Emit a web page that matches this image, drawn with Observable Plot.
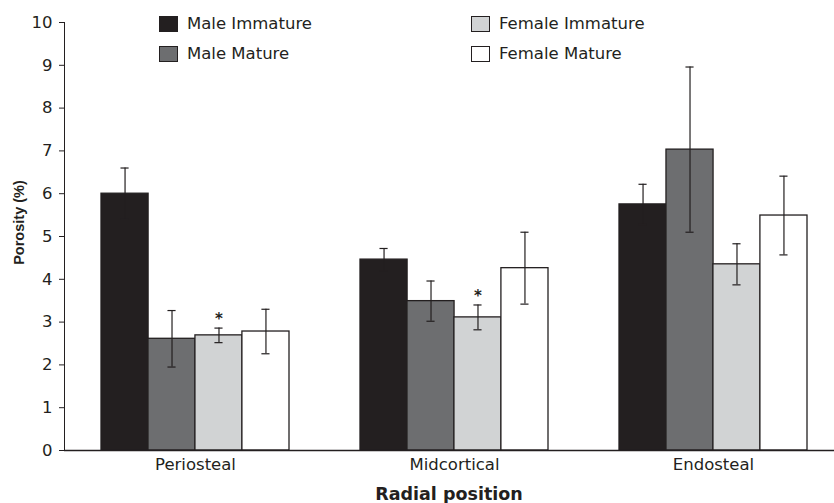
<!DOCTYPE html>
<html>
<head>
<meta charset="utf-8">
<script src="https://cdn.jsdelivr.net/npm/d3@7"></script>
<script src="https://cdn.jsdelivr.net/npm/@observablehq/plot@0.6"></script>
<style>
  html, body { margin: 0; padding: 0; background: #fff; }
  #wrap { position: relative; width: 834px; height: 503px; overflow: hidden; font-family: "DejaVu Sans", sans-serif; color: #231f20; }
  .leg { position: absolute; display: flex; align-items: center; font-size: 16.5px; line-height: 16px; white-space: nowrap; }
  .sw { width: 17px; height: 14px; border: 1.3px solid #231f20; margin-right: 9px; }
</style>
</head>
<body>
<div id="wrap"></div>
<script>
// ---- data ----
const positions = ["Periosteal", "Midcortical", "Endosteal"];
const seriesNames = ["Male Immature", "Male Mature", "Female Immature", "Female Mature"];
const seriesColors = ["#231f20", "#6d6e70", "#d1d3d4", "#ffffff"];

const maleImmature   = [6.00, 4.46, 5.75];
const maleMature     = [2.61, 3.49, 7.03];
const femaleImmature = [2.69, 3.11, 4.35];
const femaleMature   = [2.78, 4.26, 5.49];

const maleImmatureErr   = [0.60, 0.26, 0.47];
const maleMatureErr     = [0.66, 0.47, 1.93];
const femaleImmatureErr = [0.17, 0.29, 0.48];
const femaleMatureErr   = [0.52, 0.84, 0.92];

const yTicks = [0, 1, 2, 3, 4, 5, 6, 7, 8, 9, 10];
const starred = [
  {position: "Periosteal", series: "Female Immature"},
  {position: "Midcortical", series: "Female Immature"}
];

const values = [maleImmature, maleMature, femaleImmature, femaleMature];
const errors = [maleImmatureErr, maleMatureErr, femaleImmatureErr, femaleMatureErr];

const rows = [];
seriesNames.forEach((s, i) => positions.forEach((p, j) => {
  rows.push({series: s, si: i, position: p, value: values[i][j], err: errors[i][j]});
}));

// ---- layout ----
const W = 834, H = 503;
const mL = 64, mR = -9, mT = 22, mB = 53;
const pIn = 0.276, pOut = 0.139;
const step = (W - mL - mR) / (positions.length - pIn + 2 * pOut);
const bw = step * (1 - pIn);
const n = seriesNames.length;
const w = bw / n;
const capHalf = 4;
const ink = "#231f20";

const marks = [];
seriesNames.forEach((s, i) => {
  const d = rows.filter(r => r.si === i);
  const left = i * w, right = (n - 1 - i) * w;
  const c = (i + 0.5) * w;
  marks.push(Plot.barY(d, {x: "position", y: "value", fill: seriesColors[i], stroke: ink, strokeWidth: 1.3, insetLeft: left, insetRight: right}));
  marks.push(Plot.ruleX(d, {x: "position", y1: r => r.value - r.err, y2: r => r.value + r.err, dx: c - bw / 2, stroke: ink, strokeWidth: 1.2}));
  marks.push(Plot.tickY(d, {x: "position", y: r => r.value + r.err, insetLeft: c - capHalf, insetRight: bw - c - capHalf, stroke: ink, strokeWidth: 1.2}));
  marks.push(Plot.tickY(d, {x: "position", y: r => r.value - r.err, insetLeft: c - capHalf, insetRight: bw - c - capHalf, stroke: ink, strokeWidth: 1.2}));
  const st = starred.filter(a => a.series === s).map(a => rows.find(r => r.series === s && r.position === a.position));
  marks.push(Plot.text(st, {x: "position", y: r => r.value + r.err, text: () => "*", dx: c - bw / 2, dy: -9, fontSize: 15, fontWeight: "bold", fill: ink}));
});

const chart = Plot.plot({
  width: W, height: H,
  marginLeft: mL, marginRight: mR, marginTop: mT, marginBottom: mB,
  style: {fontFamily: "DejaVu Sans, sans-serif", fontSize: "16.5px", color: ink, background: "transparent"},
  x: {domain: positions, paddingInner: pIn, paddingOuter: pOut, label: null, tickSize: 0, tickPadding: 8},
  y: {domain: [0, 10], ticks: yTicks, label: null, tickSize: 5, tickPadding: 7, line: true},
  marks: [
    ...marks,
    Plot.ruleY([0], {stroke: ink, strokeWidth: 1.3}),
    Plot.text(["Porosity (%)"], {frameAnchor: "left", textAnchor: "middle", text: d => d, rotate: -90, dx: -45, dy: -14, fontWeight: "bold", fontSize: 14.5, fontFamily: "Liberation Sans, Arial, sans-serif", fill: ink}),
    Plot.text(["Radial position"], {frameAnchor: "bottom", textAnchor: "middle", text: d => d, dx: -5, dy: 49, fontWeight: "bold", fontSize: 17.5, fill: ink})
  ]
});

const wrap = document.getElementById("wrap");
wrap.appendChild(chart);

// legend overlay
const legPos = [[159, 16], [159, 46], [471, 16], [471, 46]];
seriesNames.forEach((s, i) => {
  const el = document.createElement("div");
  el.className = "leg";
  el.style.left = legPos[i][0] + "px";
  el.style.top = legPos[i][1] + "px";
  const sw = document.createElement("div");
  sw.className = "sw";
  sw.style.background = seriesColors[i];
  el.appendChild(sw);
  const t = document.createElement("span");
  t.textContent = s;
  el.appendChild(t);
  wrap.appendChild(el);
});
</script>
</body>
</html>
